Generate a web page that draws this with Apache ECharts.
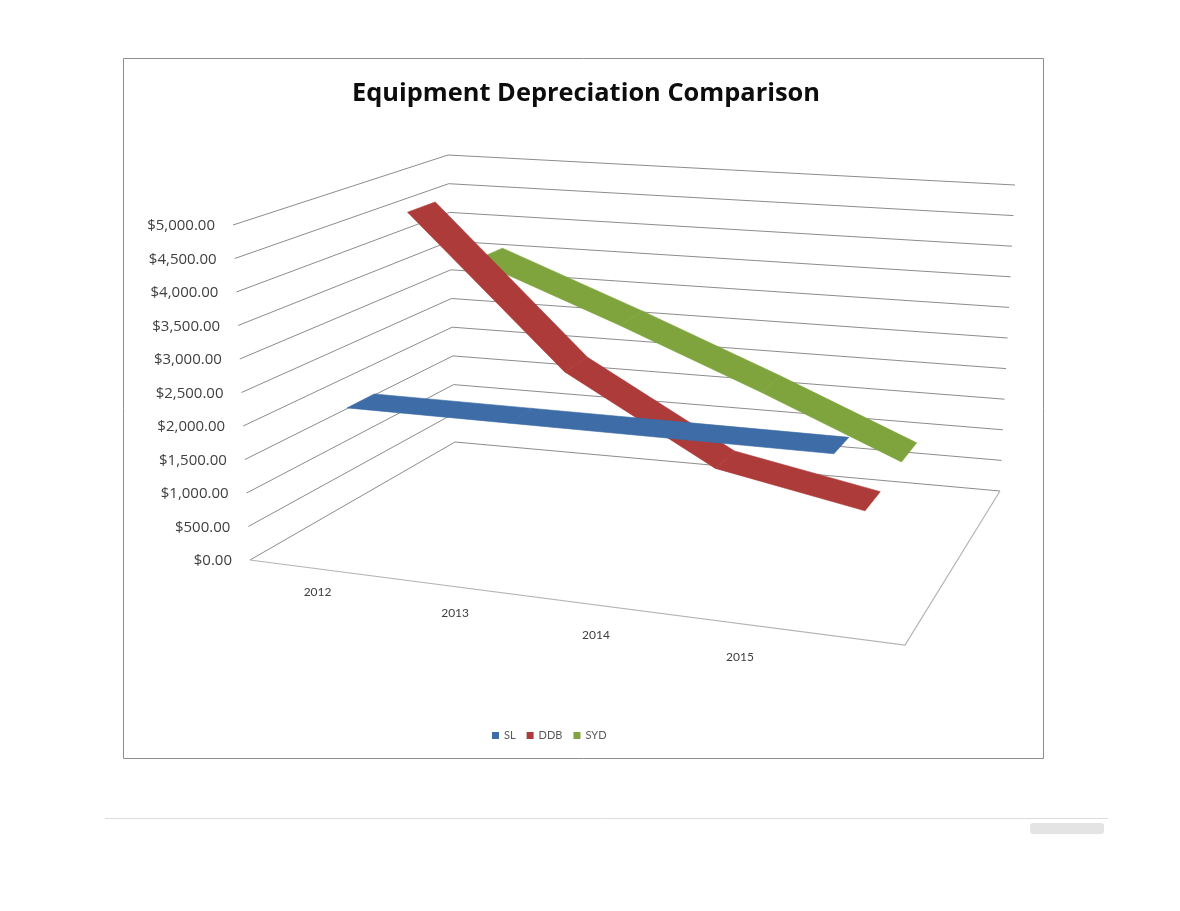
<!DOCTYPE html>
<html>
<head>
<meta charset="utf-8">
<title>Equipment Depreciation Comparison</title>
<script src="https://cdn.jsdelivr.net/npm/echarts@6/dist/echarts.min.js"></script>
<style>
	html, body { margin: 0; padding: 0; background: #fff; }
	#chart { width: 1180px; height: 911px; }
</style>
</head>
<body>
<div id="chart"></div>
<script>
var years = ['2012', '2013', '2014', '2015'];
var slValues = [2250, 2250, 2250, 2250];
var ddbValues = [4800, 2500, 1250, 850];
var sydValues = [3600, 2700, 1800, 900];
var yTicks = [0, 500, 1000, 1500, 2000, 2500, 3000, 3500, 4000, 4500, 5000];

// corners of the 3d plot box on screen (0 = floor, 1 = top, f/b = front/back)
var box = {
	fl0 : [250, 560], fr0 : [905, 645], bl0 : [455, 442], br0 : [1000, 491],
	fl1 : [233, 225], fr1 : [930, 265], bl1 : [448, 155], br1 : [1015, 185]
};
var ribbonDepth = 0.07;

function lerp(a, b, t) {
	return [a[0] + (b[0] - a[0]) * t, a[1] + (b[1] - a[1]) * t];
}
// u: along categories, h: value fraction, w: depth (0 front, 1 back)
function project(u, h, w) {
	var bottom = lerp(lerp(box.fl0, box.fr0, u), lerp(box.bl0, box.br0, u), w);
	var top = lerp(lerp(box.fl1, box.fr1, u), lerp(box.bl1, box.br1, u), w);
	return lerp(bottom, top, h);
}
function toUnit(params, pt) {
	var cs = params.coordSys;
	return [(pt[0] - cs.x) / cs.width, (cs.y + cs.height - pt[1]) / cs.height];
}
function money(v) {
	var s = String(Math.round(v));
	s = s.replace(/\B(?=(\d{3})+(?!\d))/g, ',');
	return '$' + s + '.00';
}

function ribbonSeries(name, values, color, slot, z) {
	var segs = [];
	for (var i = 0; i < values.length - 1; i++) {
		segs.push([i, values[i], values[i + 1]]);
	}
	var wc = (slot + 0.5) / 3;
	return {
		name : name,
		type : 'custom',
		z : z,
		itemStyle : { color : color },
		encode : { x : 0, y : 1 },
		data : segs,
		renderItem : function(params, api) {
			var i = api.value(0);
			var a = toUnit(params, api.coord([i, api.value(1)]));
			var b = toUnit(params, api.coord([i + 1, api.value(2)]));
			// slight squeeze towards the left, the plot is seen a bit from the right
			var ua = 0.005 + 0.98 * a[0], ub = 0.005 + 0.98 * b[0];
			var pts = [
				project(ua, a[1], wc - ribbonDepth),
				project(ub, b[1], wc - ribbonDepth),
				project(ub, b[1], wc + ribbonDepth),
				project(ua, a[1], wc + ribbonDepth)
			];
			return {
				type : 'polygon',
				shape : { points : pts },
				style : { fill : color, stroke : color, lineWidth : 0.6, lineJoin : 'round' }
			};
		}
	};
}

var option = {
	backgroundColor : '#fff',
	animation : false,
	title : {
		text : 'Equipment Depreciation Comparison',
		left : 581,
		textAlign : 'center',
		top : 76,
		textStyle : {
			fontFamily : 'Open Sans',
			fontSize : 25.4,
			fontWeight : 'bold',
			color : '#0d0d0d'
		}
	},
	legend : {
		data : ['SL', 'DDB', 'SYD'],
		left : 487,
		top : 725,
		icon : 'rect',
		itemWidth : 7,
		itemHeight : 7,
		itemGap : 11,
		textStyle : { fontFamily : 'Lato', fontSize : 11, color : '#595959' }
	},
	grid : { left : 250, top : 225, width : 655, height : 335 },
	xAxis : { type : 'category', data : years, boundaryGap : true, show : false },
	yAxis : { type : 'value', min : 0, max : 5000, interval : 500, show : false },
	graphic : [
		{
			type : 'rect', z : -1,
			shape : { x : 123.5, y : 58.5, width : 920, height : 700 },
			style : { fill : 'none', stroke : '#8e8e8e', lineWidth : 1 }
		},
		{
			type : 'line', z : -1,
			shape : { x1 : 105, y1 : 818.5, x2 : 1108, y2 : 818.5 },
			style : { stroke : '#dcdcdc', lineWidth : 1 }
		},
		{
			type : 'rect', z : -1,
			shape : { x : 1030, y : 823, width : 74, height : 11, r : 3 },
			style : { fill : '#e4e4e4' }
		}
	],
	series : [
		{
			// walls with value gridlines and labels
			name : 'walls',
			type : 'custom',
			silent : true,
			z : 1,
			encode : { x : 0, y : 1 },
			data : yTicks.map(function(v) { return [0, v]; }),
			renderItem : function(params, api) {
				var v = api.value(1);
				var h = toUnit(params, api.coord([0, v]))[1];
				var a = project(0, h, 0), b = project(0, h, 1), c = project(1, h, 1);
				return {
					type : 'group',
					children : [ {
						type : 'polyline',
						shape : { points : [a, b, c] },
						style : { stroke : '#8c8c8c', lineWidth : 1, fill : null }
					}, {
						type : 'text',
						x : a[0] - 18,
						y : a[1] + 1,
						style : {
							text : money(v),
							align : 'right',
							verticalAlign : 'middle',
							fill : '#404040',
							font : '15px "Open Sans"'
						}
					} ]
				};
			}
		},
		{
			// floor front and right edges
			name : 'floor',
			type : 'custom',
			silent : true,
			z : 1,
			encode : { x : 0, y : 1 },
			data : [[0, 0]],
			renderItem : function(params, api) {
				return {
					type : 'polyline',
					shape : { points : [project(0, 0, 0), project(1, 0, 0), project(1, 0, 1)] },
					style : { stroke : '#b4b4b4', lineWidth : 1.2, fill : null }
				};
			}
		},
		{
			// category labels in front of the floor
			name : 'categories',
			type : 'custom',
			silent : true,
			z : 1,
			encode : { x : 0, y : 1 },
			data : years.map(function(y, i) { return [i, 0]; }),
			renderItem : function(params, api) {
				var i = api.value(0);
				var u = toUnit(params, api.coord([i, 0]))[0];
				var t = u * (0.82 + 0.04 * u);
				var p = project(t, 0, 0);
				return {
					type : 'text',
					x : p[0],
					y : p[1] + 21.3 + 16 * t,
					style : {
						text : years[i],
						align : 'center',
						verticalAlign : 'middle',
						fill : '#404040',
						font : '12px Lato'
					}
				};
			}
		},
		ribbonSeries('SYD', sydValues, '#7fa43e', 2, 3),
		ribbonSeries('DDB', ddbValues, '#ad3b39', 1, 4),
		ribbonSeries('SL', slValues, '#3d6ca6', 0, 5)
	]
};

var myChart = echarts.init(document.getElementById('chart'));
myChart.setOption(option);
</script>
</body>
</html>
